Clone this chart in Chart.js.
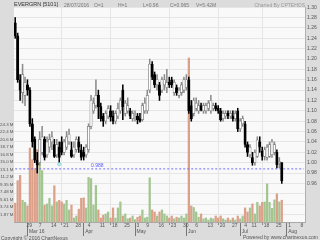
<!DOCTYPE html>
<html>
<head>
<meta charset="utf-8">
<script src="https://cdn.jsdelivr.net/npm/chart.js@4.4.0/dist/chart.umd.min.js"></script>
<style>
  html, body { margin: 0; padding: 0; background: #dcdcdc; }
  #wrap { position: relative; width: 320px; height: 240px; overflow: hidden; font-family: "Liberation Sans", Arial, sans-serif; }
  canvas { position: absolute; left: 0; top: 0; }
  .t { position: absolute; white-space: nowrap; font-size: 5px; line-height: 6px; color: #777; }
</style>
</head>
<body>
<div id="wrap">
  <canvas id="chart" width="320" height="240"></canvas>
  <div class="t" style="left:14px;top:1px;color:#333;font-size:5.5px">EVERGRN [5101]</div>
  <div class="t" style="left:64px;top:1.5px">28/07/2016</div>
  <div class="t" style="left:94px;top:1.5px">O=1</div>
  <div class="t" style="left:118px;top:1.5px">H=1</div>
  <div class="t" style="left:143px;top:1.5px">L=0.96</div>
  <div class="t" style="left:170px;top:1.5px">C=0.965</div>
  <div class="t" style="left:196px;top:1.5px">V=5.42M</div>
  <div class="t" style="right:15px;top:1.5px;color:#999">Charted By CPTEHOS</div>
  <div class="t" style="left:1px;top:234.5px;color:#555">Copyright © 2016 ChartNexus</div>
  <div class="t" style="right:2px;top:234px;color:#555">Powered by www.chartnexus.com</div>
</div>
<script>
// =========================
// DATA
// =========================
const firstDay = "2016-02-23";
const lastDay = "2016-08-10";
const holidays = ["2016-05-02", "2016-07-06", "2016-07-07"];
const monthNames = ["Jan", "Feb", "Mar", "Apr", "May", "Jun", "Jul", "Aug", "Sep", "Oct", "Nov", "Dec"];

const opens = [
  1.27, 1.245, 1.16, 1.135, 1.13, 1.15, 1.14, 1.075, 1.045, 1.005,
  1.0, 1.02, 1.045, 1.015, 1.03, 1.04, 1.035, 1.015, 1.03, 1.04,
  1.02, 1.03, 1.04, 1.025, 1.015, 1.025, 1.04, 1.025, 1.02, 1.015,
  1.025, 1.07, 1.10, 1.11, 1.13, 1.108, 1.09, 1.08, 1.09, 1.10,
  1.09, 1.08, 1.09, 1.10, 1.14, 1.095, 1.10, 1.10, 1.085, 1.09,
  1.09, 1.085, 1.083, 1.10, 1.10, 1.14, 1.19, 1.17, 1.15, 1.15,
  1.14, 1.15, 1.145, 1.155, 1.16, 1.135, 1.145, 1.13, 1.135, 1.14,
  1.145, 1.16, 1.11, 1.095, 1.105, 1.10, 1.11, 1.10, 1.10, 1.105,
  1.10, 1.105, 1.11, 1.105, 1.10, 1.085, 1.09, 1.095, 1.09, 1.09,
  1.085, 1.10, 1.065, 1.075, 1.075, 1.035, 1.015, 1.01, 1.0, 1.012,
  1.04, 1.022, 1.012, 1.01, 1.012, 1.015, 1.02, 1.02, 1.0, 1.0
];
const highs = [
  1.28, 1.25, 1.17, 1.19, 1.165, 1.16, 1.145, 1.085, 1.05, 1.02,
  1.06, 1.07, 1.05, 1.05, 1.055, 1.06, 1.045, 1.045, 1.04, 1.05,
  1.045, 1.06, 1.065, 1.04, 1.04, 1.05, 1.05, 1.035, 1.03, 1.035,
  1.075, 1.13, 1.125, 1.16, 1.14, 1.115, 1.095, 1.10, 1.11, 1.11,
  1.10, 1.10, 1.115, 1.125, 1.15, 1.12, 1.125, 1.105, 1.10, 1.10,
  1.095, 1.095, 1.115, 1.125, 1.14, 1.20, 1.195, 1.175, 1.17, 1.155,
  1.165, 1.17, 1.18, 1.165, 1.165, 1.16, 1.15, 1.145, 1.155, 1.165,
  1.17, 1.165, 1.12, 1.125, 1.125, 1.12, 1.115, 1.115, 1.115, 1.12,
  1.13, 1.115, 1.115, 1.11, 1.105, 1.10, 1.10, 1.10, 1.10, 1.10,
  1.10, 1.105, 1.085, 1.09, 1.08, 1.04, 1.035, 1.02, 1.025, 1.05,
  1.05, 1.03, 1.03, 1.035, 1.04, 1.045, 1.04, 1.025, 1.01, 1.0
];
const lows = [
  1.24, 1.155, 1.12, 1.115, 1.11, 1.13, 1.07, 1.03, 1.0, 0.98,
  0.995, 1.015, 1.005, 1.01, 1.02, 1.025, 1.01, 1.01, 1.0, 1.015,
  1.015, 1.025, 1.035, 1.01, 1.01, 1.02, 1.02, 1.005, 1.005, 1.01,
  1.02, 1.065, 1.095, 1.105, 1.085, 1.08, 1.07, 1.075, 1.085, 1.08,
  1.075, 1.075, 1.085, 1.095, 1.083, 1.09, 1.095, 1.085, 1.08, 1.08,
  1.075, 1.078, 1.08, 1.095, 1.095, 1.135, 1.16, 1.145, 1.14, 1.12,
  1.135, 1.14, 1.135, 1.145, 1.145, 1.13, 1.13, 1.125, 1.13, 1.135,
  1.14, 1.095, 1.08, 1.09, 1.10, 1.095, 1.10, 1.095, 1.095, 1.10,
  1.095, 1.10, 1.10, 1.095, 1.08, 1.08, 1.085, 1.085, 1.085, 1.08,
  1.08, 1.06, 1.06, 1.07, 1.03, 1.012, 1.01, 0.995, 0.995, 1.01,
  1.02, 1.005, 1.005, 1.005, 1.01, 1.01, 1.015, 0.99, 0.99, 0.96
];
const closes = [
  1.245, 1.16, 1.14, 1.17, 1.155, 1.14, 1.075, 1.04, 1.005, 0.995,
  1.045, 1.05, 1.01, 1.04, 1.045, 1.05, 1.012, 1.035, 1.01, 1.02,
  1.04, 1.05, 1.055, 1.012, 1.03, 1.045, 1.03, 1.01, 1.012, 1.03,
  1.07, 1.12, 1.115, 1.13, 1.108, 1.085, 1.08, 1.095, 1.105, 1.088,
  1.08, 1.095, 1.105, 1.12, 1.108, 1.115, 1.11, 1.09, 1.095, 1.092,
  1.083, 1.08, 1.11, 1.115, 1.13, 1.19, 1.165, 1.15, 1.16, 1.13,
  1.16, 1.16, 1.155, 1.15, 1.15, 1.155, 1.135, 1.14, 1.15, 1.16,
  1.16, 1.10, 1.085, 1.12, 1.115, 1.11, 1.102, 1.11, 1.11, 1.115,
  1.12, 1.11, 1.103, 1.10, 1.083, 1.095, 1.095, 1.09, 1.095, 1.085,
  1.095, 1.065, 1.08, 1.085, 1.035, 1.02, 1.03, 1.0, 1.02, 1.044,
  1.03, 1.012, 1.025, 1.03, 1.035, 1.04, 1.035, 0.996, 1.0, 0.965
];
// volume in millions
const volumes = [
  4.7, 10.3, 11.6, 5.4, 4.9, 4.0, 18.4, 15.5, 13.3, 18.0,
  14.5, 12.8, 4.2, 4.5, 5.9, 4.0, 9.0, 5.0, 5.4, 5.0,
  4.5, 5.4, 3.0, 4.2, 1.0, 1.5, 3.2, 5.9, 6.0, 3.5,
  11.1, 10.8, 4.2, 9.1, 3.0, 1.0, 1.7, 2.0, 2.5, 1.0,
  3.5, 1.0, 3.5, 5.0, 1.5, 2.0, 0.8, 1.0, 1.5, 0.6,
  1.2, 1.5, 3.0, 1.0, 1.2, 11.0, 3.0, 2.5, 1.5, 2.5,
  3.0, 2.0, 1.5, 1.0, 1.5, 0.8, 1.2, 1.0, 1.5, 1.0,
  2.0, 40.8, 4.0, 3.6, 2.5, 1.2, 2.0, 0.8, 1.0, 0.5,
  1.0, 0.8, 1.5, 1.0, 1.5, 0.8, 0.5, 1.0, 0.5, 1.0,
  0.5, 1.5, 0.8, 1.5, 3.5, 2.5, 3.5, 4.5, 2.0, 4.9,
  4.0, 4.9, 5.0, 9.5, 4.9, 3.4, 5.5, 7.0, 5.0, 5.42
];
// horizontal line drawn on the chart, its label, and the low marker
const levelValue = 0.988;
const levelText = "0.988";
const levelLabelDay = 31;
const markerDay = 18;
const markerPrice = 0.997;

const volTicks = [1.87, 3.74, 5.61, 7.48, 9.35, 11.22, 13.09, 14.96, 16.83, 18.7, 20.57, 22.44, 24.31];
const priceTicks = [0.90, 0.92, 0.94, 0.96, 0.98, 1.00, 1.02, 1.04, 1.06, 1.08, 1.10,
  1.12, 1.14, 1.16, 1.18, 1.20, 1.22, 1.24, 1.26, 1.28, 1.30];

// =========================
// CALENDAR
// =========================
function tradingDays(from, to) {
  const out = [];
  const end = new Date(to + "T00:00:00Z");
  for (let d = new Date(from + "T00:00:00Z"); d <= end; d.setUTCDate(d.getUTCDate() + 1)) {
    const wd = d.getUTCDay();
    const iso = d.toISOString().slice(0, 10);
    if (wd === 0 || wd === 6 || holidays.includes(iso)) continue;
    out.push(iso);
  }
  return out;
}

const days = tradingDays(firstDay, lastDay);
const asDate = s => new Date(s + "T00:00:00Z");

const weekLabels = days.map((s, i) => {
  if (i === 0) return null;
  const d = asDate(s), p = asDate(days[i - 1]);
  if (d.getUTCDay() < p.getUTCDay() || d - p >= 7 * 864e5) return String(d.getUTCDate());
  return null;
});

let firstMonthShown = true;
const monthLabels = days.map((s, i) => {
  if (i === 0) return null;
  const m = asDate(s).getUTCMonth();
  if (m === asDate(days[i - 1]).getUTCMonth()) return null;
  const txt = firstMonthShown ? monthNames[m] + " " + s.slice(2, 4) : monthNames[m];
  firstMonthShown = false;
  return txt;
});

// two label rows on one axis: day of week start, month name under it
function dateLabel(i) {
  if (weekLabels[i] === null && monthLabels[i] === null) return null;
  return [weekLabels[i] || "", monthLabels[i] || ""];
}

// =========================
// DATASETS
// =========================
const isUp = i => closes[i] >= opens[i];
const bodies = opens.map((o, i) => [Math.min(o, closes[i]), Math.max(o, closes[i])]);
const wicks = lows.map((l, i) => [l, highs[i]]);
const marker = days.map((d, i) => i === markerDay ? markerPrice : null);

const FONT = { family: "Liberation Sans", size: 5, lineHeight: 1.2 };
const CLEAR = "rgba(0,0,0,0)";

const plotBg = {
  id: "plotBg",
  beforeDraw(chart) {
    const { ctx, chartArea: a } = chart;
    ctx.save();
    ctx.fillStyle = "#f9f9f9";
    ctx.fillRect(a.left, a.top, a.right - a.left, a.bottom - a.top);
    ctx.restore();
  }
};

// value label of the horizontal line
const levelLabel = {
  id: "levelLabel",
  afterDatasetsDraw(chart) {
    const { ctx, scales } = chart;
    ctx.save();
    ctx.font = "5px 'Liberation Sans'";
    ctx.fillStyle = "#5a5aff";
    ctx.textBaseline = "bottom";
    ctx.fillText(levelText, scales.x.getPixelForValue(levelLabelDay), scales.yp.getPixelForValue(levelValue) - 1);
    ctx.restore();
  }
};

new Chart(document.getElementById("chart"), {
  type: "bar",
  data: {
    labels: days,
    datasets: [
      {
        type: "line", label: "marker", data: marker, yAxisID: "yp", order: 0,
        showLine: false, pointRadius: 1.6, pointBackgroundColor: "#cfeff2",
        pointBorderColor: "#7fc8d0", pointBorderWidth: 0.8
      },
      {
        label: "body", data: bodies, yAxisID: "yp", order: 1, grouped: false,
        barThickness: 2.4, minBarLength: 1,
        backgroundColor: opens.map((o, i) => isUp(i) ? "#ffffff" : "#000000"),
        borderColor: opens.map((o, i) => isUp(i) ? "#7a7a7a" : "#000000"),
        borderWidth: 0.7, borderSkipped: false
      },
      {
        label: "wick", data: wicks, yAxisID: "yp", order: 2, grouped: false,
        barThickness: 0.9,
        backgroundColor: opens.map((o, i) => isUp(i) ? "#8c8c8c" : "#000000")
      },
      {
        type: "line", label: "level", data: days.map(() => levelValue), yAxisID: "yp", order: 3,
        borderColor: "#6b6bff", borderWidth: 1, borderDash: [2, 2], pointRadius: 0, fill: false
      },
      {
        label: "volume", data: volumes, yAxisID: "yv", order: 4, grouped: false,
        barThickness: 1.6,
        backgroundColor: opens.map((o, i) => isUp(i) ? "#a3c592" : "#dc9f88")
      }
    ]
  },
  options: {
    responsive: false,
    animation: false,
    layout: { padding: { top: 7, bottom: 4, left: 0, right: 0 } },
    plugins: { legend: { display: false }, tooltip: { enabled: false } },
    scales: {
      x: {
        type: "category", position: "bottom", weight: 0, offset: true,
        grid: {
          offset: false, tickLength: 3,
          color: c => weekLabels[c.index] !== null ? "#e6e6e6" : CLEAR,
          tickColor: c => weekLabels[c.index] !== null ? "#888" : CLEAR
        },
        border: { display: true, color: "#a8a8a8" },
        ticks: {
          autoSkip: false, maxRotation: 0, align: "start", padding: -2, labelOffset: 1.5,
          font: FONT, color: "#555", callback: (v, i) => dateLabel(i)
        },
        afterFit: s => { s.height = 14; }
      },
      x2: {
        type: "category", position: "bottom", weight: 1, offset: true,
        grid: { offset: false, drawOnChartArea: false, tickLength: -13, tickColor: "#777" },
        border: { display: false },
        ticks: { autoSkip: false, maxRotation: 0, color: CLEAR, font: FONT,
          callback: (v, i) => monthLabels[i] === null ? null : " " },
        afterFit: s => { s.height = 0; }
      },
      yv: {
        position: "left", min: 0, max: 53.5,
        grid: { display: false, drawTicks: false }, border: { display: false },
        afterBuildTicks: s => { s.ticks = volTicks.map(v => ({ value: v })); },
        ticks: { font: { family: "Liberation Sans", size: 4.4 }, color: "#555", padding: 0.5,
          callback: v => v.toPrecision(3) + " M" },
        afterFit: s => { s.width = 14; }
      },
      yp: {
        position: "right", min: 0.8855, max: 1.3004,
        grid: { color: "#e6e6e6", drawTicks: false },
        border: { display: true, color: "#b0b0b0" },
        afterBuildTicks: s => { s.ticks = priceTicks.map(v => ({ value: v })); },
        ticks: { font: FONT, color: "#555", padding: 2, callback: v => v >= 0.959 ? v.toFixed(2) : "" },
        afterFit: s => { s.width = 15; }
      }
    }
  },
  plugins: [plotBg, levelLabel]
});
</script>
</body>
</html>
